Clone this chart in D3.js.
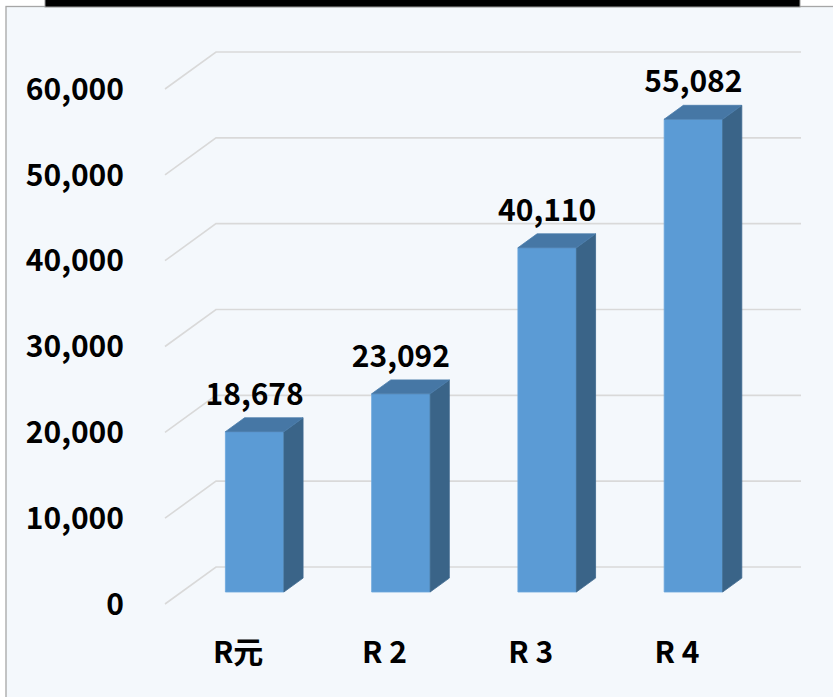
<!DOCTYPE html>
<html>
<head>
<meta charset="utf-8">
<script src="https://cdn.jsdelivr.net/npm/d3@7"></script>
<style>
  body { margin: 0; background: #ffffff; }
  text { font-family: "Noto Sans CJK JP", "Noto Sans", sans-serif; font-weight: 700; fill: #000; }
</style>
</head>
<body>
<div id="chart"></div>
<script>
// data
let categories = ['R元', 'R 2', 'R 3', 'R 4'];
let values = [18678, 23092, 40110, 55082];
let tickValues = [0, 10000, 20000, 30000, 40000, 50000, 60000];

let svgWidth = 833;
let svgHeight = 697;

// 3d depth of the plot (floor front edge -> back wall)
let depthX = 51;
let depthY = -37;
let barFront = 0.324;
let barBack = 0.70;

let svg = d3.select('#chart')
    .append('svg')
    .attr('width', svgWidth)
    .attr('height', svgHeight);

// panel background and border
svg.append('rect')
    .attr('x', 6)
    .attr('y', 6.5)
    .attr('width', 900)
    .attr('height', 800)
    .attr('fill', '#f4f8fc')
    .attr('stroke', '#a6a6a6')
    .attr('stroke-width', 1.3);

// black bar across the top
svg.append('rect')
    .attr('x', 45)
    .attr('y', -5)
    .attr('width', 755)
    .attr('height', 12)
    .attr('fill', '#000')
    .attr('stroke', '#9a9a9a')
    .attr('stroke-width', 1);

// scales on the front plane
let x = d3.scaleBand()
    .domain(categories)
    .range([165, 750])
    .paddingInner(0.6)
    .paddingOuter(0.3);

let y = d3.scaleLinear()
    .domain([0, 60000])
    .range([604, 89]);

let fmt = d3.format(',');

// gridlines: diagonal on side wall + horizontal on back wall
let grid = svg.append('g');
tickValues.forEach(function (t) {
    grid.append('path')
        .attr('d', `M165,${y(t)} L${165 + depthX},${y(t) + depthY} L801,${y(t) + depthY}`)
        .attr('fill', 'none')
        .attr('stroke', '#d9d9d9')
        .attr('stroke-width', 1.6);
});

// y axis labels
svg.append('g')
    .selectAll('text')
    .data(tickValues)
    .enter()
    .append('text')
    .attr('x', 124)
    .attr('y', d => y(d))
    .attr('dy', '0.36em')
    .attr('text-anchor', 'end')
    .attr('font-size', '30px')
    .text(d => fmt(d));

// bars
let bars = svg.append('g')
    .selectAll('g')
    .data(values)
    .enter()
    .append('g');

let fx = d => x(categories[d.i]) + barFront * depthX;
let dxB = (barBack - barFront) * depthX;
let dyB = (barBack - barFront) * depthY;

bars.each(function (v, i) {
    let g = d3.select(this);
    let x0 = x(categories[i]) + barFront * depthX;
    let x1 = x0 + x.bandwidth();
    let yb = y(0) + barFront * depthY;
    let yt = y(v) + barFront * depthY;
    // front face
    g.append('path')
        .attr('d', `M${x0},${yb} L${x0},${yt} L${x1},${yt} L${x1},${yb} Z`)
        .attr('fill', '#5b9bd5')
        .attr('stroke', '#6aa6dc')
        .attr('stroke-width', 0.8);
    // side face
    g.append('path')
        .attr('d', `M${x1},${yb} L${x1},${yt} L${x1 + dxB},${yt + dyB} L${x1 + dxB},${yb + dyB} Z`)
        .attr('fill', '#3a6488')
        .attr('stroke', '#3f6a8f')
        .attr('stroke-width', 0.8);
    // top face
    g.append('path')
        .attr('d', `M${x0},${yt} L${x0 + dxB},${yt + dyB} L${x1 + dxB},${yt + dyB} L${x1},${yt} Z`)
        .attr('fill', '#4677a5')
        .attr('stroke', '#4a7cab')
        .attr('stroke-width', 0.8);
    // value label
    g.append('text')
        .attr('x', (x0 + x1) / 2)
        .attr('y', yt + dyB - 13)
        .attr('text-anchor', 'middle')
        .attr('font-size', '30px')
        .text(fmt(v));
});

// category labels
svg.append('g')
    .selectAll('text')
    .data(categories)
    .enter()
    .append('text')
    .attr('x', d => x(d) + x.bandwidth() / 2)
    .attr('y', 652)
    .attr('dy', '0.36em')
    .attr('text-anchor', 'middle')
    .attr('font-size', '30px')
    .text(d => d);
</script>
</body>
</html>
